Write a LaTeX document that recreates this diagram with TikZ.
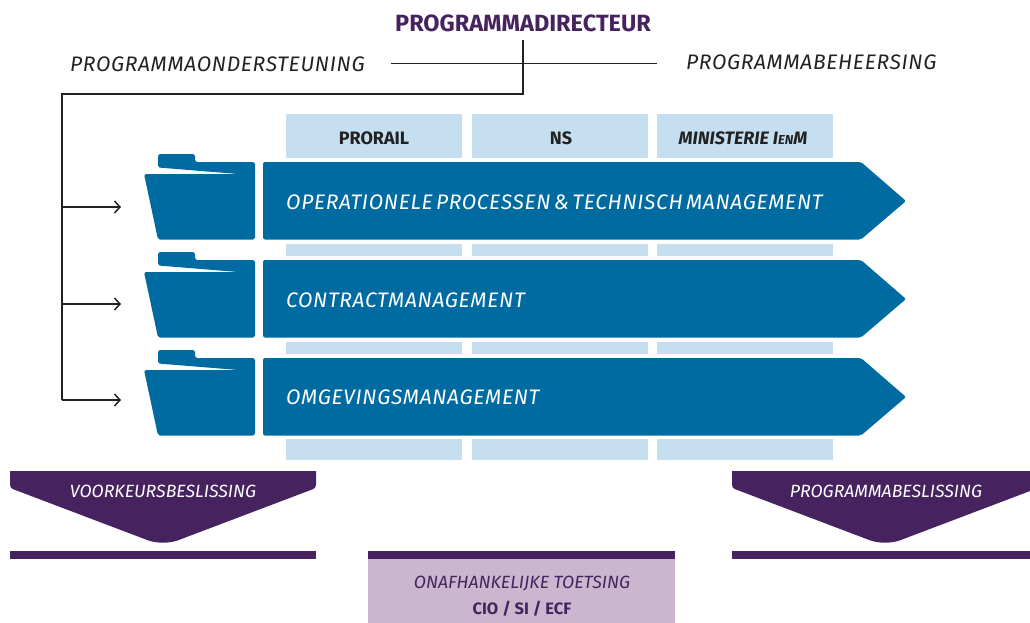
\documentclass[tikz,border=0pt]{standalone}
\usepackage{fontspec}
\setmainfont{Fira Sans}
\newfontfamily\spaced[LetterSpace=3.2,WordSpace=0.55]{Fira Sans}
\usetikzlibrary{arrows.meta,positioning}
\definecolor{rijksblue}{HTML}{006BA1}
\definecolor{lightblue}{HTML}{C5DFF0}
\definecolor{darkpurple}{HTML}{46235E}
\definecolor{lilac}{HTML}{CAB6CE}
\definecolor{inkline}{HTML}{222222}
\tikzset{
  lineto/.style={draw=inkline, line width=1.5pt},
  arrowto/.style={lineto, -{Straight Barb[length=5.5pt,width=12pt,line width=1.5pt]}},
  headcell/.style={fill=lightblue, minimum width=176pt, minimum height=44pt, inner sep=0pt, outer sep=0pt, anchor=north west},
  stripcell/.style={fill=lightblue, minimum width=176pt, inner sep=0pt, outer sep=0pt, anchor=north west},
  headtext/.style={font=\fontsize{18}{20}\selectfont\bfseries, text=inkline, inner sep=0pt, anchor=base},
  sidetext/.style={font=\fontsize{21}{24}\selectfont\spaced\itshape, text=inkline, inner sep=0pt, anchor=base west},
  bartext/.style={font=\fontsize{21}{24}\selectfont\spaced\itshape, text=white, inner sep=0pt, anchor=base west},
  decisiontext/.style={font=\fontsize{17.7}{20}\selectfont\itshape, inner sep=0pt, anchor=base},
  pics/folder/.style={code={
    \fill[rijksblue, rounded corners=1.8pt] (144,12) -- (238,12) -- (158,5.5) -- (158,-8) -- (195,-8) -- (195,0) -- (255,0) -- (255,77.5) -- (158,77.5) -- cycle;
  }},
  pics/bar/.style={code={
    \fill[rijksblue, rounded corners=2pt] (263,0) -- (861,0) -- (906,39) -- (861,77.5) -- (263,77.5) -- cycle;
  }},
  pics/decision/.style={code={
    \fill[darkpurple] (0,0) [rounded corners=3pt] -- (0,17) [rounded corners=16pt] -- (153,75) [rounded corners=3pt] -- (306,17) [sharp corners] -- (306,0) -- cycle;
    \fill[darkpurple] (0,80) rectangle (306,88);
  }}
}
\begin{document}
\begin{tikzpicture}[x=1pt,y=-1pt]
\useasboundingbox (0,0) rectangle (1030,623);

% Kolommen boven en tussen de balken
\node[headcell] (prorail) at (286,114) {};
\node[headcell] (ns) at (472,114) {};
\node[headcell] (ienm) at (657,114) {};
\node[stripcell, minimum height=12.5pt] (strip-1-1) at (286,243.5) {};
\node[stripcell, minimum height=12.5pt] (strip-1-2) at (472,243.5) {};
\node[stripcell, minimum height=12.5pt] (strip-1-3) at (657,243.5) {};
\node[stripcell, minimum height=12.5pt] (strip-2-1) at (286,341.5) {};
\node[stripcell, minimum height=12.5pt] (strip-2-2) at (472,341.5) {};
\node[stripcell, minimum height=12.5pt] (strip-2-3) at (657,341.5) {};
\node[stripcell, minimum height=21pt] (strip-3-1) at (286,439) {};
\node[stripcell, minimum height=21pt] (strip-3-2) at (472,439) {};
\node[stripcell, minimum height=21pt] (strip-3-3) at (657,439) {};
\node[headtext] at (374,144.5) {PRORAIL};
\node[headtext] at (561,144.5) {NS};
\node[headtext, font=\fontsize{18}{20}\selectfont\bfseries\itshape] at (743,144.5) {MINISTERIE I{\fontsize{13}{14}\selectfont EN}M};

% Balken en mappen
\pic at (0,162) {bar};
\pic at (0,260) {bar};
\pic at (0,358) {bar};
\pic at (0,162) {folder};
\pic at (0,260) {folder};
\pic at (0,358) {folder};
\node[bartext] (bar-1) at (286,209) {OPERATIONELE PROCESSEN \& TECHNISCH MANAGEMENT};
\node[bartext] (bar-2) at (286,307) {CONTRACTMANAGEMENT};
\node[bartext] (bar-3) at (286,404) {OMGEVINGSMANAGEMENT};

% Lijnen vanaf de programmadirecteur
\node[font=\fontsize{23.5}{26}\selectfont\bfseries, text=darkpurple, inner sep=0pt, anchor=base] (director) at (523,32) {PROGRAMMADIRECTEUR};
\node[sidetext] (support) at (70,72) {PROGRAMMAONDERSTEUNING};
\node[sidetext] (control) at (686,70) {PROGRAMMABEHEERSING};
\coordinate (support-end) at (391,63.5);
\coordinate (control-end) at (657,63.5);
\coordinate (director-foot) at (523,40);
\coordinate (corner-right) at (523,94);
\coordinate (corner-left) at (62,94);
\coordinate (branch-1) at (62,207);
\coordinate (branch-2) at (62,304);
\coordinate (branch-3) at (62,400);
\coordinate (folder-1) at (121,207);
\coordinate (folder-2) at (121,304);
\coordinate (folder-3) at (121,400);
\draw[lineto] (support-end) -- (control-end);
\draw[lineto] (director-foot) -- (corner-right) -- (corner-left) -- (branch-3);
\draw[arrowto] (branch-1) -- (folder-1);
\draw[arrowto] (branch-2) -- (folder-2);
\draw[arrowto] (branch-3) -- (folder-3);

% Beslissingen onderaan
\pic at (10,471) {decision};
\pic at (732,471) {decision};
\node[decisiontext, text=white] (choice) at (163,497) {VOORKEURSBESLISSING};
\node[decisiontext, text=white] (verdict) at (886,497) {PROGRAMMABESLISSING};
\fill[lilac] (368,559) rectangle (675,623);
\fill[darkpurple] (368,551) rectangle (675,559);
\node[decisiontext, text=darkpurple] (review) at (522,588) {ONAFHANKELIJKE TOETSING};
\node[decisiontext, text=darkpurple, font=\fontsize{16.5}{20}\selectfont\bfseries] (bodies) at (522,614) {CIO / SI / ECF};
\end{tikzpicture}
\end{document}
